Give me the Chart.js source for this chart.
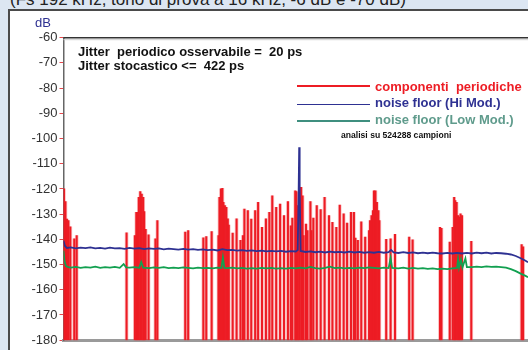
<!DOCTYPE html>
<html><head><meta charset="utf-8">
<script src="https://cdn.jsdelivr.net/npm/chart.js@4/dist/chart.umd.min.js"></script>
<style>
html,body{margin:0;padding:0;width:528px;height:350px;overflow:hidden;background:#dce6f2;font-family:"Liberation Sans",Arial,sans-serif;}
#box{position:absolute;left:8px;top:8.5px;width:540px;height:360px;background:#fff;border-top:2px solid #4a4a4a;border-left:2px solid #4a4a4a;}
.t{position:absolute;white-space:pre;line-height:1;}
.ln{position:absolute;height:1.5px;}
canvas{position:absolute;left:0;top:0;}
</style></head>
<body>
<div class="t" style="left:10px;top:-8.9px;font-size:17px;color:#222;">(Fs 192 kHz, tono di prova a 16 kHz, -6 dB e -70 dB)</div>
<div id="box"></div>
<canvas id="c" width="528" height="350"></canvas>
<div class="t" style="left:35px;top:15.7px;font-size:13px;color:#2e3192;">dB</div>
<div class="t" style="left:78px;top:45px;font-size:13px;font-weight:bold;color:#111;">Jitter  periodico osservabile =  20 ps</div>
<div class="t" style="left:78px;top:59.3px;font-size:13px;font-weight:bold;color:#111;">Jitter stocastico &lt;=  422 ps</div>
<div class="ln" style="left:297px;top:85px;width:73px;background:#ed1c24;"></div>
<div class="ln" style="left:297px;top:103.6px;width:73px;background:#2e3192;"></div>
<div class="ln" style="left:297px;top:120px;width:73px;background:#3f8f7f;"></div>
<div class="t" style="left:375px;top:79.7px;font-size:13px;font-weight:bold;color:#ed1c24;">componenti  periodiche</div>
<div class="t" style="left:375px;top:96.3px;font-size:13px;font-weight:bold;color:#2e3192;">noise floor (Hi Mod.)</div>
<div class="t" style="left:375px;top:113px;font-size:13px;font-weight:bold;color:#5f9b8c;">noise floor (Low Mod.)</div>
<div class="t" style="left:341px;top:130.5px;font-size:8.6px;font-weight:bold;color:#111;">analisi su 524288 campioni</div>
<script>
// Periodic components (frequency kHz, level dB)
const redF = [0.1,0.4,0.7,1.0,1.4,2.2,2.7,12.9,14.6,14.9,15.1,15.4,15.7,16.0,16.3,16.5,16.8,17.4,18.8,19.2,
  24.9,25.5,28.6,29.2,30.3,31.7,31.9,32.2,32.5,32.7,33.0,33.3,33.6,33.8,34.6,35.4,36.2,36.7,37.0,37.7,
  38.4,39.2,39.8,40.6,41.4,42.1,42.7,43.5,44.3,45.1,45.9,46.5,46.8,47.4,47.6,47.9,48.2,48.6,48.9,49.1,
  49.6,49.9,50.5,50.7,51.1,51.8,52.6,53.4,54.3,55.0,55.8,56.5,57.3,58.0,58.8,59.4,59.7,60.2,60.9,61.7,
  62.5,62.7,63.0,63.3,63.5,63.8,64.1,64.4,64.6,66.0,66.9,67.8,70.7,71.4,77.0,77.3,79.0,79.6,79.9,80.1,
  80.4,80.7,81.0,81.2,81.5,83.4,93.7,94.0];
const redDb = [-120,-125,-132,-132.5,-135,-139.8,-138.5,-137.4,-138.5,-129.3,-129.3,-123.3,-121,-122,-123.3,-129,-136,-138.2,-139.8,-132.5,
  -137.1,-136.5,-139.4,-138.9,-136.9,-138.5,-123.3,-120,-119.8,-125.3,-126.6,-127.3,-131.9,-134.3,-137.5,-131.9,-140.4,-138.5,-128,-128.6,
  -132,-128.6,-125.3,-135.2,-131.9,-129.3,-122.7,-127.3,-126,-130.6,-125,-134.6,-131.6,-120.7,-121,-126.6,-121.4,-119.4,-122.7,-138.5,
  -133.9,-136.5,-125,-136.5,-131.6,-126.6,-128.2,-123.3,-130.6,-133.2,-135.2,-126.4,-129.9,-133.5,-129.3,-129.3,-139.5,-140.4,-133,-139.1,
  -136.5,-132.5,-130.6,-128.6,-120.7,-120.7,-125.3,-128.6,-132.5,-140,-139.8,-138,-139.1,-140.2,-135.2,-135.6,-141.1,-135.2,-123.3,-124.6,
  -125.3,-130.6,-131.2,-129.9,-130.6,-140.8,-142.1,-143];

// Noise floor, Hi Mod.
const blueF = [0,0.3,0.7,1.5,2.5,3.5,4.5,5.5,6.5,7.5,8.5,9.5,10.5,11.5,12.5,13.5,14.5,15.5,16.5,17.5,18.5,19.5,
  20.5,21.5,22.5,23.5,24.5,25.5,26.5,27.5,28.5,29.5,30.5,31.5,32.5,33.5,34.5,35.5,36.5,37.5,38.5,39.5,40.5,41.5,
  42.5,43.5,44.5,45.5,46.5,47.5,47.9,48.1,48.2,48.3,48.5,49.5,50.5,51.5,52.5,53.5,54.5,55.5,56.5,57.5,58.5,59.5,
  60.5,61.5,62.5,63.5,64.5,65.5,66.5,67.0,67.5,68.5,69.5,70.5,71.5,72.5,73.5,74.5,75.5,76.5,77.5,78.5,79.5,80.5,
  81.5,82.5,83.5,84.5,85.5,86.5,87.5,88.5,89.5,90.5,91.5,92.5,93.5,94.5,95];
const blueDb = [-140.5,-142.6,-143.4,-143.2,-143.6,-143.3,-143.5,-143.2,-143.6,-143.4,-143.7,-143.3,-143.6,-143.5,-143.8,-143.4,-143.7,-143.5,-143.9,-143.6,-143.8,-143.6,
  -144.0,-143.7,-143.9,-144.1,-143.8,-144.1,-143.9,-144.2,-144.0,-144.3,-144.1,-144.4,-143.9,-144.3,-144.2,-144.5,-144.3,-144.6,-144.4,-144.7,-144.5,-144.8,
  -144.6,-144.8,-144.6,-144.9,-144.7,-144.8,-144.2,-120,-103.5,-120,-144.6,-145.0,-144.8,-145.1,-144.9,-145.2,-144.9,-145.1,-145.0,-145.2,-144.9,-145.2,
  -145.0,-145.3,-145.1,-145.3,-145.0,-145.3,-145.1,-144.2,-145.2,-145.4,-145.1,-145.4,-145.2,-145.5,-145.3,-145.5,-145.3,-145.5,-145.6,-145.4,-145.6,-145.4,
  -145.6,-145.4,-145.6,-145.3,-145.5,-145.3,-145.6,-145.4,-145.5,-145.7,-146.0,-146.6,-147.5,-148.5,-149.1];

// Noise floor, Low Mod.
const greenF = [0,0.2,0.5,1.0,1.5,2.5,3.5,4.5,5.5,6.5,7.5,8.5,9.5,10.5,11.5,12.3,12.8,13.5,14.5,15.5,15.9,16.3,17.5,18.5,19.5,
  20.5,21.5,22.5,23.5,24.5,25.5,26.5,27.5,28.5,29.5,30.5,31.5,32.3,32.6,32.9,33.5,34.5,35.5,36.5,37.5,38.5,39.5,40.5,41.5,42.5,
  43.5,44.5,45.5,46.5,47.5,48.5,49.5,50.5,51.5,52.5,53.5,54.5,55.5,56.5,57.5,58.5,59.5,60.5,61.5,62.5,63.5,64.5,65.5,66.5,66.9,
  67.2,68.5,69.5,70.5,71.5,72.5,73.5,74.5,75.5,76.5,77.5,78.5,79.5,80.5,80.7,80.9,81.3,81.6,82.2,82.5,83.5,84.5,85.5,86.5,87.5,
  88.5,89.5,90.5,91.5,92.5,93.5,94.5,95];
const greenDb = [-144.5,-148.5,-150.6,-151.0,-151.2,-150.9,-151.3,-151.0,-151.2,-150.8,-151.3,-151.0,-151.2,-150.9,-151.3,-149.8,-151.1,-151.2,-151.0,-151.3,-149.0,-151.2,-151.4,-151.1,-151.3,
  -151.0,-151.4,-151.2,-151.4,-151.1,-151.3,-151.5,-151.2,-151.4,-151.3,-151.5,-151.2,-151.3,-147.2,-151.3,-151.4,-151.2,-151.5,-151.3,-151.6,-151.4,-151.6,-151.3,-151.5,-151.3,
  -151.6,-151.4,-151.6,-151.3,-151.5,-151.2,-151.5,-150.9,-151.4,-151.6,-151.3,-150.8,-151.4,-151.2,-151.5,-151.3,-151.5,-151.2,-151.4,-151.1,-151.3,-151.5,-151.2,-151.4,-147.4,
  -151.3,-151.5,-151.2,-151.6,-151.3,-151.6,-151.4,-151.7,-151.5,-151.8,-151.6,-151.8,-151.5,-151.3,-147.8,-151.2,-148.0,-151.1,-147.6,-151.0,-151.0,-150.8,-151.0,-150.7,-150.9,
  -150.8,-151.0,-151.2,-151.8,-152.6,-153.6,-154.5,-155.0];

const yTicks = [-60,-70,-80,-90,-100,-110,-120,-130,-140,-150,-160,-170,-180];

const bars = redF.map((f,i)=>({x:f, y:[-180, redDb[i]]}));
const topBorder = {
  id:'topBorder',
  afterDraw(chart){
    const {ctx, chartArea:a} = chart;
    ctx.save();
    ctx.strokeStyle='#333'; ctx.lineWidth=1.5;
    ctx.beginPath(); ctx.moveTo(a.left, a.top); ctx.lineTo(a.right, a.top); ctx.stroke();
    ctx.strokeStyle='#d0d0d0'; ctx.lineWidth=1;
    ctx.beginPath(); ctx.moveTo(a.left, a.top+2); ctx.lineTo(a.right, a.top+2); ctx.stroke();
    ctx.restore();
  }
};

new Chart(document.getElementById('c'), {
  type:'bar',
  data:{
    datasets:[
      {type:'line', label:'noise floor (Hi Mod.)', data:blueF.map((f,i)=>({x:f,y:blueDb[i]})),
       borderColor:'#2e3192', borderWidth:1.8, pointRadius:0, tension:0, order:1},
      {type:'line', label:'noise floor (Low Mod.)', data:greenF.map((f,i)=>({x:f,y:greenDb[i]})),
       borderColor:'#12a050', borderWidth:1.8, pointRadius:0, tension:0, order:2},
      {label:'componenti periodiche', data:bars, backgroundColor:'#ed1c24', barThickness:1.4, grouped:false, order:3},
      {label:'halo', data:bars, backgroundColor:'rgba(240,90,95,0.35)', barThickness:3, grouped:false, order:4}
    ]
  },
  options:{
    responsive:false, animation:false, devicePixelRatio:1,
    layout:{padding:{top:37.7,bottom:8,left:0,right:0}},
    plugins:{legend:{display:false}, tooltip:{enabled:false}},
    scales:{
      x:{type:'linear', min:0, max:95, offset:false, z:1,
         ticks:{display:false}, grid:{display:false, drawTicks:false},
         border:{display:true, color:'#9a9a9a', width:3}},
      y:{type:'linear', min:-180, max:-60,
         afterFit(s){ s.width = 63.5; },
         afterBuildTicks(s){ s.ticks = yTicks.map(v=>({value:v})); },
         ticks:{color:'#333', padding:2, font:{family:'Liberation Sans', size:13}, callback:v=>String(v)},
         grid:{drawOnChartArea:false, drawTicks:true, tickLength:4, tickColor:'#e8474c', lineWidth:1},
         border:{display:true, color:'#666', width:1.5}}
    }
  },
  plugins:[topBorder]
});
</script>
</body></html>
